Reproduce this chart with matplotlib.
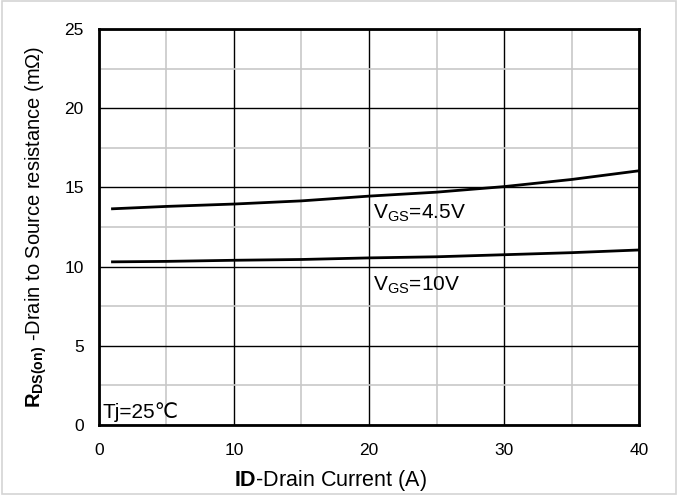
import matplotlib
matplotlib.use('Agg')
import matplotlib.pyplot as plt
from matplotlib.patches import Rectangle
import numpy as np

plt.rcParams['font.family'] = ['Liberation Sans', 'DejaVu Sans']
plt.rcParams['mathtext.fontset'] = 'custom'
plt.rcParams['mathtext.rm'] = 'Liberation Sans'
plt.rcParams['mathtext.bf'] = 'Liberation Sans:bold'

# drain current (A)
id_a = [1, 5, 10, 15, 20, 25, 30, 35, 40]
# Rds(on) (mOhm) per gate voltage
rds_45v = [13.65, 13.8, 13.95, 14.15, 14.45, 14.7, 15.05, 15.5, 16.05]
rds_10v = [10.3, 10.33, 10.4, 10.45, 10.55, 10.62, 10.75, 10.88, 11.05]

fig = plt.figure(figsize=(6.78, 4.95), dpi=100)
fig.patches.append(Rectangle((0.003, 0.003), 0.994, 0.994, transform=fig.transFigure,
                             fill=False, edgecolor='#d4d4d4', linewidth=1.2))
ax = fig.add_axes([0.146, 0.1414, 0.7965, 0.80])

ax.plot(id_a, rds_45v, color='black', linewidth=2)
ax.plot(id_a, rds_10v, color='black', linewidth=2)

ax.set_xlim(0, 40)
ax.set_ylim(0, 25)
ax.set_xticks(np.arange(0, 41, 10))
ax.set_yticks(np.arange(0, 26, 5))
ax.set_xticks(np.arange(0, 41, 5), minor=True)
ax.set_yticks(np.arange(0, 26, 2.5), minor=True)
ax.grid(which='minor', color='#c8c8c8', linewidth=1.2)
ax.grid(which='major', color='black', linewidth=1.0)
ax.set_axisbelow(True)
ax.tick_params(which='both', length=0, labelsize=12.5)
ax.tick_params(axis='x', pad=13)
ax.tick_params(axis='y', pad=11)
for s in ax.spines.values():
    s.set_linewidth(2)

ax.text(20.3, 13.07, r'V$_{\mathrm{GS}}$=4.5V', fontsize=15, va='baseline')
ax.text(20.3, 8.52, r'V$_{\mathrm{GS}}$=10V', fontsize=15, va='baseline')
ax.text(0.25, 0.45, 'Tj=25℃', fontsize=15, va='baseline')

ax.set_xlabel(r'$\mathbf{ID}$-Drain Current (A)', fontsize=15.5, labelpad=7, x=0.428)
ax.set_ylabel(r'$\mathbf{R}_{\mathbf{DS(on)}}$ -Drain to Source resistance (mΩ)',
              fontsize=14.5, labelpad=11)

fig.savefig('out.png', dpi=100)
